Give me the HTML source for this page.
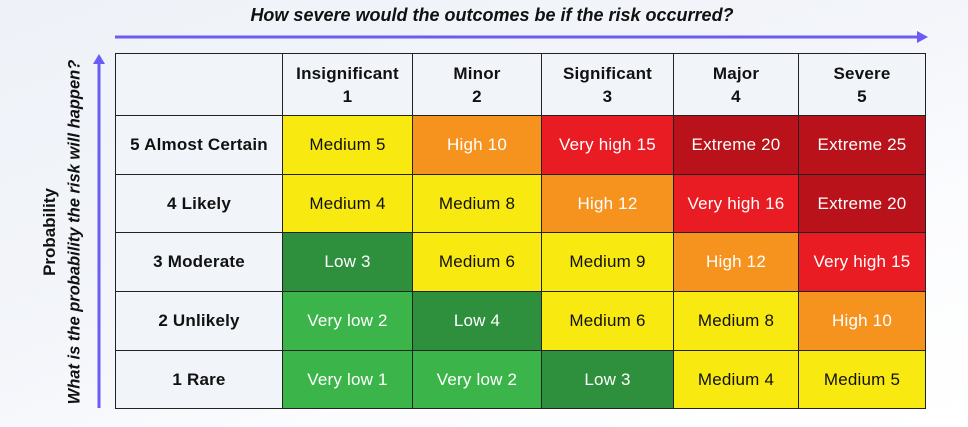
<!DOCTYPE html>
<html><head><meta charset="utf-8"><style>
body{margin:0;width:968px;height:427px;overflow:hidden;font-family:"Liberation Sans",sans-serif;background:linear-gradient(160deg,#eef2f8 0%,#f3f5fa 45%,#fbfcfe 70%,#fff 100%);position:relative}
.abs{position:absolute}
.cell{position:absolute;box-sizing:border-box;border:1px solid #222;display:flex;align-items:center;justify-content:center;text-align:center;font-size:17px;letter-spacing:0.2px}
.hdr{background:#f1f4f9;font-weight:bold;color:#111}
</style></head><body>
<div class="abs" style="left:115px;width:754px;top:5px;text-align:center;font-size:18px;font-weight:bold;font-style:italic;color:#111;white-space:nowrap">How severe would the outcomes be if the risk occurred?</div>
<svg class="abs" style="left:0;top:0" width="968" height="427">
<line x1="115" y1="37" x2="920" y2="37" stroke="#6a5cf4" stroke-width="3"/>
<polygon points="928,37 917,31 917,43" fill="#6a5cf4"/>
<line x1="99" y1="62" x2="99" y2="408" stroke="#6a5cf4" stroke-width="3"/>
<polygon points="99,54 93,64 105,64" fill="#6a5cf4"/>
</svg>
<div class="abs" style="left:50px;top:232px;transform:translate(-50%,-50%) rotate(-90deg);white-space:nowrap;font-size:17px;font-weight:bold;color:#111">Probability</div>
<div class="abs" style="left:75px;top:232px;transform:translate(-50%,-50%) rotate(-90deg);white-space:nowrap;font-size:16.5px;font-weight:bold;font-style:italic;color:#111">What is the probability the risk will happen?</div>
<div id="grid"></div>
<script>
const xs=[115,282,412,541,673,798,925];
const ys=[53,115,174,232,291,350,408];
const colHeaders=[["Insignificant","1"],["Minor","2"],["Significant","3"],["Major","4"],["Severe","5"]];
const rowHeaders=["5 Almost Certain","4 Likely","3 Moderate","2 Unlikely","1 Rare"];
const cells=[
["Medium 5","High 10","Very high 15","Extreme 20","Extreme 25"],
["Medium 4","Medium 8","High 12","Very high 16","Extreme 20"],
["Low 3","Medium 6","Medium 9","High 12","Very high 15"],
["Very low 2","Low 4","Medium 6","Medium 8","High 10"],
["Very low 1","Very low 2","Low 3","Medium 4","Medium 5"]];
const colors={"Very low":["#3bb54a","#fff"],"Low":["#2e8f3d","#fff"],"Medium":["#f8ea10","#111"],"High":["#f6921e","#fff"],"Very high":["#e91b23","#fff"],"Extreme":["#b9121b","#fff"]};
const g=document.getElementById('grid');
function mk(c,r,html,cls){const d=document.createElement('div');d.className='cell '+(cls||'');
d.style.left=xs[c]+'px';d.style.top=ys[r]+'px';d.style.width=(xs[c+1]-xs[c]+1)+'px';d.style.height=(ys[r+1]-ys[r]+1)+'px';d.innerHTML=html;g.appendChild(d);return d;}
const corner=mk(0,0,'','hdr');


colHeaders.forEach((h,i)=>{const d=mk(i+1,0,h[0]+'<br>'+h[1],'hdr');d.style.lineHeight='23px';

});
rowHeaders.forEach((h,i)=>{const d=mk(0,i+1,h,'hdr');

});
cells.forEach((row,r)=>row.forEach((t,c)=>{const lvl=t.replace(/ \d+$/,'');const col=colors[lvl];
const d=mk(c+1,r+1,t);d.style.background=col[0];d.style.color=col[1];

}));
</script>
</body></html>
